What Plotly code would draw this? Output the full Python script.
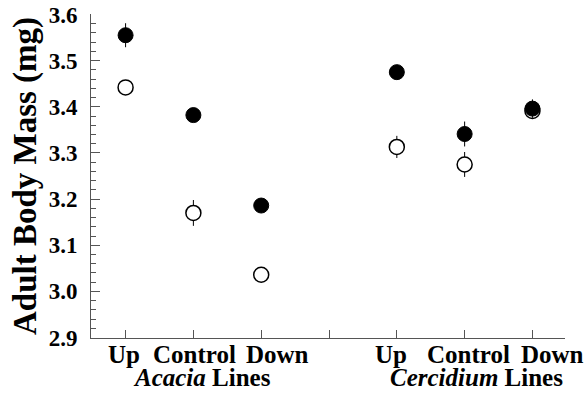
import plotly.graph_objects as go

# x positions (4 is the gap between the two groups)
x_pos = [1, 2, 3, 5, 6, 7]
tick_labels = ["Up", "Control", "Down", "Up", "Control", "Down"]
group_labels = ["<i>Acacia</i> Lines", "<i>Cercidium</i> Lines"]
group_pos = [2, 6]
y_ticks = [2.9, 3.0, 3.1, 3.2, 3.3, 3.4, 3.5, 3.6]

filled_mass = [3.555, 3.382, 3.186, 3.475, 3.341, 3.396]
filled_se = [0.026, 0.010, 0.010, 0.010, 0.027, 0.020]
open_mass = [3.442, 3.170, 3.036, 3.313, 3.275, 3.391]
open_se = [0.010, 0.028, 0.010, 0.024, 0.027, 0.010]

FONT = "Liberation Serif"

fig = go.Figure()
fig.add_trace(go.Scatter(
    x=x_pos, y=open_mass, mode="markers",
    error_y=dict(type="data", array=open_se, visible=True, color="black", thickness=1, width=0),
    marker=dict(symbol="circle", size=15, color="white", line=dict(color="black", width=1.5)),
    showlegend=False))
fig.add_trace(go.Scatter(
    x=x_pos, y=filled_mass, mode="markers",
    error_y=dict(type="data", array=filled_se, visible=True, color="black", thickness=1, width=0),
    marker=dict(symbol="circle", size=15, color="black", line=dict(color="black", width=1)),
    showlegend=False))

label_shift = [-2, 1, 16, -6, 4, 20]
for xv, t, s in zip(x_pos, tick_labels, label_shift):
    fig.add_annotation(x=xv, y=0, xref="x", yref="paper", text="<b>%s</b>" % t,
                       showarrow=False, xanchor="center", yanchor="top", yshift=-1, xshift=s,
                       font=dict(family=FONT, size=25, color="black"))
for xv, t, s in zip(group_pos, group_labels, [9, 12]):
    fig.add_annotation(x=xv, y=0, xref="x", yref="paper", text="<b>%s</b>" % t,
                       showarrow=False, xanchor="center", yanchor="top", yshift=-24, xshift=s,
                       font=dict(family=FONT, size=25, color="black"))

fig.update_layout(
    width=587, height=394, autosize=False,
    margin=dict(l=91, r=22, t=14, b=56, autoexpand=False),
    plot_bgcolor="white", paper_bgcolor="white",
    font=dict(family=FONT, color="black"),
)
fig.update_xaxes(range=[0.49, 7.48], tickvals=[1, 2, 3, 4, 5, 6, 7], showticklabels=False,
                 ticks="inside", ticklen=8, tickcolor="#555", showline=True, linecolor="#555",
                 linewidth=1, showgrid=False, zeroline=False, automargin=False)
fig.update_yaxes(range=[2.899, 3.601], tickmode="array", tickvals=y_ticks,
                 ticktext=["<b>%.1f</b>" % v for v in y_ticks],
                 ticks="inside", ticklen=9, tickcolor="#555", showline=True, linecolor="#555",
                 linewidth=1, showgrid=False, zeroline=False, automargin=False,
                 tickfont=dict(family=FONT, size=23, color="black"),
                 ticklabelstandoff=8,
                 minor=dict(tickmode="linear", dtick=0.02, tick0=2.9, ticks="inside", ticklen=5,
                            tickcolor="#555", showgrid=False),
                 title=dict(text="<b>Adult Body Mass (mg)</b>", standoff=2,
                            font=dict(family=FONT, size=33, color="black")))

fig.write_html("out.html", config={"displayModeBar": False},
               post_script="document.body.style.margin='0';")
